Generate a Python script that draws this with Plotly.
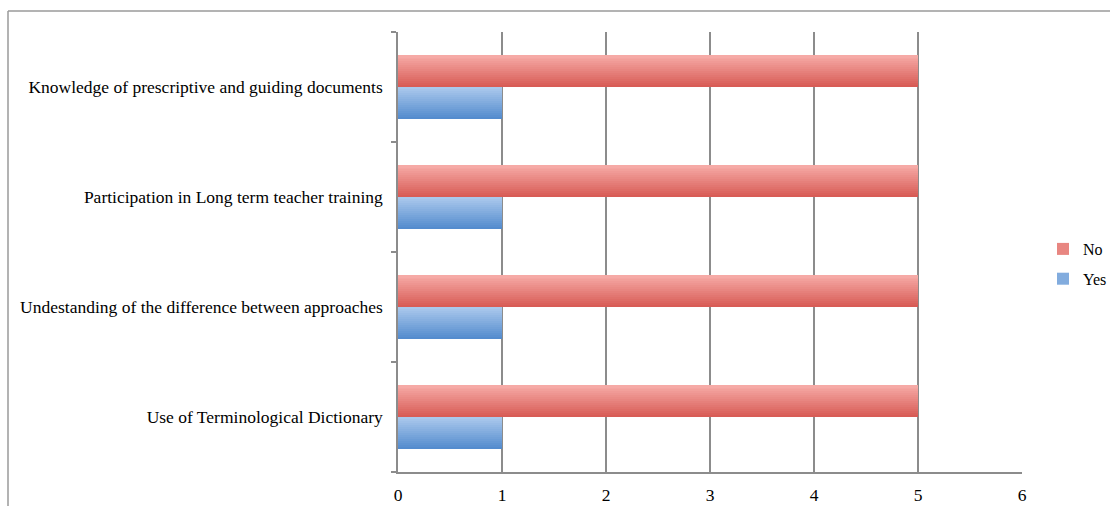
import plotly.graph_objects as go

categories = [
    "Use of Terminological Dictionary",
    "Undestanding of the difference between approaches",
    "Participation in Long term teacher training",
    "Knowledge of prescriptive and guiding documents",
]
yes_values = [1, 1, 1, 1]
no_values = [5, 5, 5, 5]
x_ticks = [0, 1, 2, 3, 4, 5, 6]

# plot area in pixels
W, H = 1110, 506
L, R, T, B = 398, 88, 32, 34
pw, ph = W - L - R, H - T - B

def lerp(c1, c2, t):
    return "rgb(%d,%d,%d)" % tuple(round(a + (b - a) * t) for a, b in zip(c1, c2))

BAR_W = 0.29
N = 16
sl = BAR_W / N

fig = go.Figure()

series = [
    ("No", no_values, (246, 170, 166), (216, 92, 86), 0.0),
    ("Yes", yes_values, (170, 200, 236), (84, 140, 206), -BAR_W),
]
for name, vals, top_c, bot_c, base_off in series:
    for i in range(N):
        # i = 0 at bottom of bar; each slice extends to the bar top
        t = i / (N - 1)
        col = lerp(bot_c, top_c, t)
        fig.add_trace(go.Bar(
            y=categories, x=vals, orientation="h", name=name,
            legendgroup=name, showlegend=(i == N // 2),
            marker=dict(color=col, line=dict(width=0)),
            width=(N - i) * sl, offset=base_off + i * sl,
            hoverinfo="skip" if i != N // 2 else None,
        ))

fig.update_layout(
    width=W, height=H,
    margin=dict(l=L, r=R, t=T, b=B, autoexpand=False),
    barmode="overlay",
    plot_bgcolor="white", paper_bgcolor="white",
    font=dict(family="Liberation Serif, Times New Roman, serif", size=17.5, color="#000"),
    showlegend=True,
    legend=dict(
        x=(1043 - L) / pw, xanchor="left",
        y=(H - B - 264) / ph, yanchor="middle",
        traceorder="grouped", tracegroupgap=6,
        font=dict(size=16), itemwidth=30, bgcolor="rgba(0,0,0,0)",
    ),
    xaxis=dict(
        range=[0, 6], tickvals=x_ticks, ticktext=[str(v) for v in x_ticks],
        showgrid=True, gridcolor="#8c8c8c", gridwidth=1.5,
        showline=True, linecolor="#8c8c8c", linewidth=1.5,
        zeroline=False, ticks="", fixedrange=True, ticklabelstandoff=6,
    ),
    yaxis=dict(
        categoryorder="array", categoryarray=categories,
        range=[-0.5, 3.5],
        showgrid=False, showline=True, linecolor="#8c8c8c", linewidth=1.5,
        ticks="outside", tickson="boundaries", ticklen=5, tickcolor="#8c8c8c", tickwidth=1.5,
        zeroline=False, ticklabelstandoff=10,
    ),
    shapes=[
        dict(type="line", xref="paper", yref="paper",
             x0=(8 - L) / pw, x1=(W + 10 - L) / pw,
             y0=(H - B - 11) / ph, y1=(H - B - 11) / ph,
             line=dict(color="#9a9a9a", width=1.5)),
        dict(type="line", xref="paper", yref="paper",
             x0=(8 - L) / pw, x1=(8 - L) / pw,
             y0=(H - B - 11) / ph, y1=(H - B - 520) / ph,
             line=dict(color="#9a9a9a", width=1.5)),
    ],
)

fig.write_html("out.html")
